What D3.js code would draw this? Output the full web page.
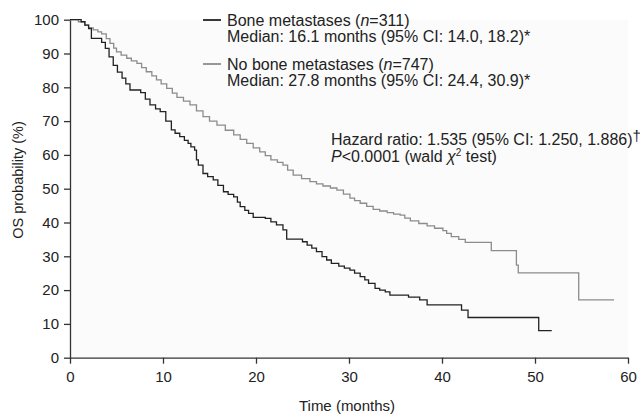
<!DOCTYPE html>
<html><head><meta charset="utf-8">
<script src="https://cdn.jsdelivr.net/npm/d3@7"></script>
<style>
body{margin:0;background:#fff;}
text{font-family:"Liberation Sans",Arial,sans-serif;fill:#222;}
</style></head>
<body><svg id="c" width="640" height="414"></svg>
<script>
const xTicks=[0,10,20,30,40,50,60];
const yTicks=[0,10,20,30,40,50,60,70,80,90,100];
const boneTimes=[0,1.2,1.6,2.0,2.3,3.4,3.8,4.2,4.65,5.1,5.6,6.0,6.45,7.6,8.1,8.6,9.2,9.7,10.3,10.9,11.3,11.8,12.3,12.7,13.0,13.4,13.6,13.8,14.3,14.8,15.4,15.9,16.5,17.0,17.6,18.0,18.3,18.8,19.2,19.7,21.0,21.6,22.2,22.9,23.3,25.0,25.5,26.0,26.5,27.1,27.6,28.1,28.9,29.5,30.1,30.6,31.2,31.7,32.1,32.8,33.3,33.9,34.4,36.4,37.6,38.4,42.1,42.8,50.4,51.8];
const boneSurv=[100,99.4,98.4,97.4,94.5,93.3,91.5,89,86.5,84.5,82.7,81,79.2,78.4,76.5,74.8,73.6,72.8,70,67.4,66.4,65.4,64.3,63.4,62.4,61.4,58.5,57,54.5,53.6,52.6,51,49.1,48.3,47.6,46,44.7,43.6,42.7,41.5,41.2,40.2,39.3,37.8,35.1,34.3,33.3,32.4,31.4,29.9,28.9,27.9,27.1,26.5,25.9,25,24,23,22,20.5,20,19.5,18.5,17.9,17.1,15.6,14.1,11.9,8.0,8.0];
const noBoneTimes=[0,0.9,1.6,2.0,2.5,3.0,3.4,3.9,4.3,4.7,5.0,5.5,6.1,6.6,7.2,7.7,8.2,8.8,9.3,9.8,10.4,11.0,11.5,12.2,12.9,13.6,14.3,15.0,15.8,16.7,17.6,18.3,19.0,19.7,20.4,21.0,21.6,22.3,22.9,23.4,24.0,24.9,25.8,26.5,27.2,28.0,28.7,29.4,30.1,30.6,31.2,31.9,32.6,33.3,34.1,34.8,35.5,36.0,36.6,37.5,38.4,39.2,40.1,40.5,41.0,41.8,42.5,45.3,48.0,48.2,54.7,58.5];
const noBoneSurv=[100,99.4,98.4,97.6,97,96.4,95.8,94.4,93,91.6,90.5,89.5,88.6,87.8,87.1,85.8,84.6,83.4,82.2,81,79.7,78.3,77,75.9,74.8,73,71.3,70,68.8,67.3,65.9,64.6,63.4,62.1,60.9,59.8,58.5,57.8,57,55.5,54,53,52.1,51.4,50.8,50.2,49.6,48.4,47.2,46.5,45.7,44.8,43.9,43.4,42.9,42.5,42.2,41.3,40.5,39.7,39,38.3,37.6,36.8,35.8,35,34.1,31.7,27.4,25.1,17.1,17.1];

const svg=d3.select("#c");
const x=d3.scaleLinear().domain([0,60]).range([70,628]);
const y=d3.scaleLinear().domain([0,100]).range([357.7,19.7]);

svg.append("rect").attr("x",x(0)).attr("y",y(100)).attr("width",x(60)-x(0)).attr("height",y(0)-y(100)).attr("fill","#fbfbfb");

const xa=svg.append("g").attr("transform","translate(0,357.7)")
  .call(d3.axisBottom(x).tickValues(xTicks).tickSize(6).tickPadding(8).tickSizeOuter(0));
const ya=svg.append("g").attr("transform","translate(70,0)")
  .call(d3.axisLeft(y).tickValues(yTicks).tickSize(6).tickPadding(5).tickSizeOuter(0));
[xa,ya].forEach(a=>{
  a.selectAll("path,line").attr("stroke","#333").attr("stroke-width",1.3);
  a.selectAll("text").attr("font-size",15).attr("font-family","Liberation Sans, Arial, sans-serif").attr("fill","#222");
});

const line=d3.line().x(d=>x(d[0])).y(d=>y(d[1])).curve(d3.curveStepAfter);
const bone=boneTimes.map((t,i)=>[t,boneSurv[i]]);
const noBone=noBoneTimes.map((t,i)=>[t,noBoneSurv[i]]);
svg.append("path").datum(noBone).attr("d",line).attr("fill","none").attr("stroke","#8c8c8c").attr("stroke-width",1.3);
svg.append("path").datum(bone).attr("d",line).attr("fill","none").attr("stroke","#222").attr("stroke-width",1.3);

svg.append("text").attr("x",347).attr("y",411).attr("text-anchor","middle").attr("font-size",15).text("Time (months)");
svg.append("text").attr("transform","translate(23,180) rotate(-90)").attr("text-anchor","middle").attr("font-size",14.5).text("OS probability (%)");

// legend
function leg(yy,color,label,n,median){
  svg.append("line").attr("x1",203).attr("x2",221).attr("y1",yy).attr("y2",yy).attr("stroke",color).attr("stroke-width",1.8);
  const t=svg.append("text").attr("x",227).attr("y",yy+6).attr("font-size",16);
  t.append("tspan").text(label+" (");
  t.append("tspan").attr("font-style","italic").text("n");
  t.append("tspan").text("="+n+")");
  svg.append("text").attr("x",227).attr("y",yy+22).attr("font-size",16).text(median);
}
leg(20,"#222","Bone metastases",311,"Median: 16.1 months (95% CI: 14.0, 18.2)*");
leg(64,"#8c8c8c","No bone metastases",747,"Median: 27.8 months (95% CI: 24.4, 30.9)*");

const h=svg.append("text").attr("x",331).attr("y",145).attr("font-size",16);
h.append("tspan").text("Hazard ratio: 1.535 (95% CI: 1.250, 1.886)");
h.append("tspan").attr("font-size",15).attr("dy",-4).text("†");
const p=svg.append("text").attr("x",331).attr("y",162).attr("font-size",16);
p.append("tspan").attr("font-style","italic").text("P");
p.append("tspan").text("<0.0001 (wald ");
p.append("tspan").attr("font-style","italic").text("χ");
p.append("tspan").attr("font-size",10).attr("dy",-6).text("2");
p.append("tspan").attr("dy",6).text(" test)");
</script></body></html>
